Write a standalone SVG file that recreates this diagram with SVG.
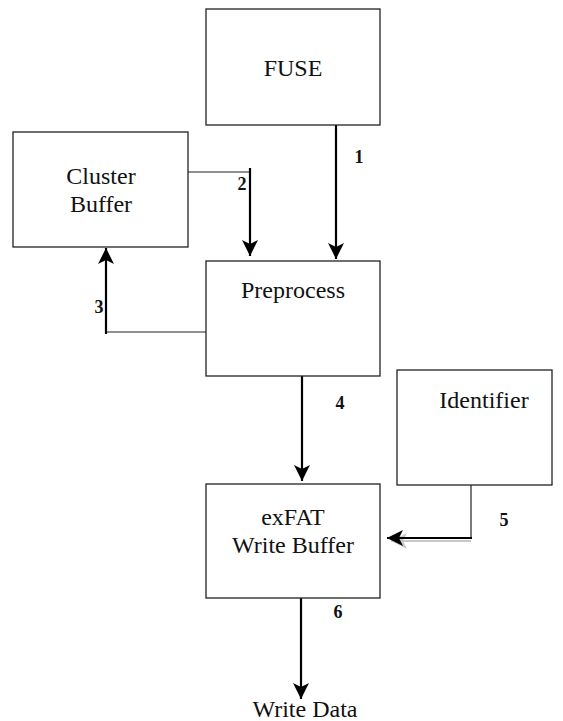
<svg xmlns="http://www.w3.org/2000/svg" width="563" height="721" viewBox="0 0 563 721">
<style>
.box{fill:#fff;stroke:#222;stroke-width:1.3}
.t{font-family:'Liberation Serif','DejaVu Serif',serif;font-size:24px;fill:#111;text-anchor:middle}
.n{font-family:'Liberation Serif','DejaVu Serif',serif;font-size:18px;font-weight:bold;fill:#111;text-anchor:middle}
.thick{stroke:#000;stroke-width:2.2;fill:none}
.thin{stroke:#222;stroke-width:1.2;fill:none}
.sh{stroke:#c8c8c8;stroke-width:2.2;fill:none}
</style>
<defs>
<marker id="ah" markerUnits="userSpaceOnUse" markerWidth="18" markerHeight="18" viewBox="0 0 18 18" refX="16" refY="9" orient="auto">
<path d="M0,1 L16,9 L0,17 L4,9 z" fill="#000"/>
</marker>
<marker id="ahs" markerUnits="userSpaceOnUse" markerWidth="18" markerHeight="18" viewBox="0 0 18 18" refX="16" refY="9" orient="auto">
<path d="M0,1 L16,9 L0,17 L4,9 z" fill="#c8c8c8"/>
</marker>
</defs>
<g id="connectors">
<line class="thick" x1="336" y1="125" x2="336" y2="259" marker-end="url(#ah)"/>
<text class="n" x="359" y="163">1</text>
<polyline class="thin" points="188,172 250,172"/>
<line class="thick" x1="250" y1="168" x2="250" y2="256" marker-end="url(#ah)"/>
<text class="n" x="242" y="190">2</text>
<polyline class="thin" points="206,332 106,332"/>
<line class="thick" x1="106" y1="334" x2="106" y2="248" marker-end="url(#ah)"/>
<text class="n" x="99" y="313">3</text>
<line class="thick" x1="302" y1="376" x2="302" y2="481" marker-end="url(#ah)"/>
<text class="n" x="340" y="409">4</text>
<line class="thin" x1="471" y1="485" x2="471" y2="538"/>
<line class="sh" x1="471" y1="541" x2="391" y2="541" marker-end="url(#ahs)"/>
<line class="thick" x1="472" y1="538" x2="387" y2="538" marker-end="url(#ah)"/>
<text class="n" x="504" y="526">5</text>
<line class="thick" x1="301" y1="598" x2="301" y2="699" marker-end="url(#ah)"/>
<text class="n" x="338" y="618">6</text>
</g>
<g id="fuse"><rect class="box" x="206" y="9" width="174" height="116"/><text class="t" x="293" y="76">FUSE</text></g>
<g id="cluster-buffer"><rect class="box" x="13" y="132" width="175" height="115"/><text class="t" x="101" y="184">Cluster</text><text class="t" x="101" y="212">Buffer</text></g>
<g id="preprocess"><rect class="box" x="206" y="261" width="174" height="115"/><text class="t" x="293" y="298">Preprocess</text></g>
<g id="identifier"><rect class="box" x="397" y="370" width="155" height="115"/><text class="t" x="484" y="408">Identifier</text></g>
<g id="exfat-write-buffer"><rect class="box" x="206" y="484" width="174" height="114"/><text class="t" x="293" y="525">exFAT</text><text class="t" x="293" y="553">Write Buffer</text></g>
<g id="write-data"><text class="t" x="305" y="717">Write Data</text></g>
</svg>
